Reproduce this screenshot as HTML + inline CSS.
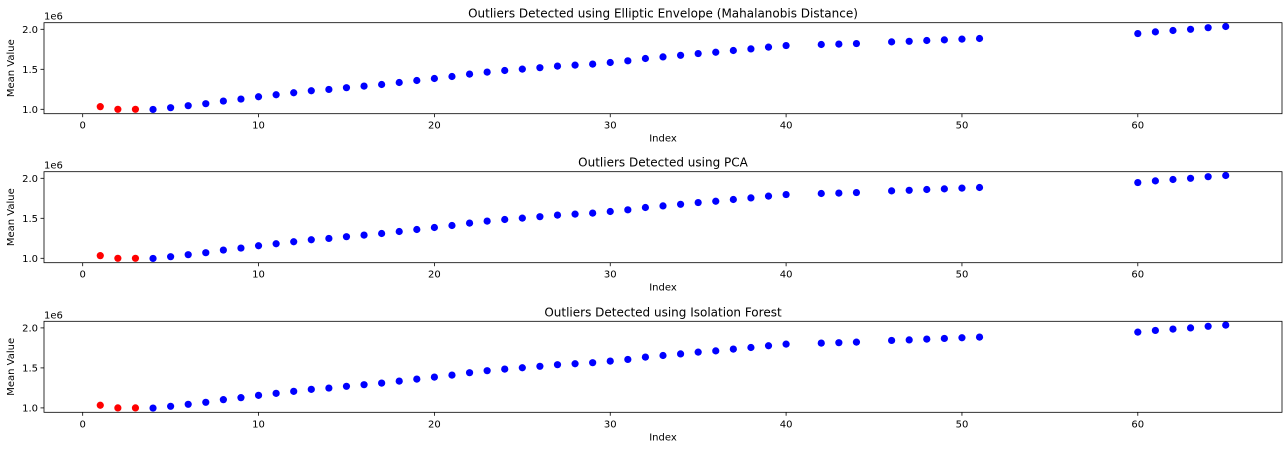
<!DOCTYPE html>
<html><head><meta charset="utf-8"><style>
html,body{margin:0;padding:0;background:#fff;}
svg{display:block;font-family:"DejaVu Sans","Liberation Sans",sans-serif;}
</style></head><body>
<svg id="chart" width="1288" height="450" viewBox="0 0 1288 450"></svg>
<script>
const titles=["Outliers Detected using Elliptic Envelope (Mahalanobis Distance)","Outliers Detected using PCA","Outliers Detected using Isolation Forest"];
const indices=[1,2,3,4,5,6,7,8,9,10,11,12,13,14,15,16,17,18,19,20,21,22,23,24,25,26,27,28,29,30,31,32,33,34,35,36,37,38,39,40,42,43,44,46,47,48,49,50,51,60,61,62,63,64,65];
const values=[1.033,1.0,1.0,0.998,1.02,1.045,1.07,1.103,1.128,1.157,1.182,1.207,1.232,1.248,1.27,1.29,1.31,1.335,1.36,1.385,1.41,1.44,1.465,1.485,1.502,1.52,1.54,1.552,1.565,1.585,1.606,1.635,1.655,1.675,1.697,1.713,1.735,1.755,1.777,1.797,1.81,1.815,1.822,1.843,1.85,1.86,1.868,1.877,1.885,1.947,1.968,1.985,2.0,2.02,2.035];
const outliers=[1,2,3];
const xTicks=[0,10,20,30,40,50,60];
const yTicks=[1.0,1.5,2.0];
const NS="http://www.w3.org/2000/svg";
const svg=document.getElementById('chart');
function mk(t,a,p){const e=document.createElementNS(NS,t);for(const k in a)e.setAttribute(k,a[k]);(p||svg).appendChild(e);return e;}
const L=44,R=1282,H=91;
const tops=[22.7,171.7,321.3];
const xmin=-2.2,xmax=68.2;
const X=v=>L+(v-xmin)/(xmax-xmin)*(R-L);
tops.forEach((T,i)=>{
  const g=mk('g',{});
  
  
  const Y=v=>T+6.6+(2.0-v)*80;
  const tt=mk('text',{x:(L+R)/2,y:T-5,'text-anchor':'middle','font-size':12,fill:'#000'},g);tt.textContent=titles[i];
  
  const ex=mk('text',{x:L,y:T-3,'font-size':10,fill:'#000'},g);ex.textContent='1e6';
  
  xTicks.forEach(t=>{const x=X(t);mk('line',{x1:x,x2:x,y1:T+H,y2:T+H+3.5,stroke:'#000','stroke-width':0.8},g);
    const tx=mk('text',{x:x,y:T+H+15,'text-anchor':'middle','font-size':10,fill:'#000'},g);tx.textContent=t;
    });
  yTicks.forEach(t=>{const y=Y(t);mk('line',{x1:L,x2:L-3.5,y1:y,y2:y,stroke:'#000','stroke-width':0.8},g);
    const ty=mk('text',{x:L-6,y:y+3.5,'text-anchor':'end','font-size':10,fill:'#000'},g);ty.textContent=t.toFixed(1);
    });
  const xl=mk('text',{x:(L+R)/2,y:T+H+28,'text-anchor':'middle','font-size':10,fill:'#000'},g);xl.textContent='Index';
  
  const yc=T+H/2;
  const yl=mk('text',{x:14,y:yc,'text-anchor':'middle','font-size':10,fill:'#000',transform:`rotate(-90 14 ${yc})`},g);yl.textContent='Mean Value';
  
  indices.forEach((ix,j)=>{
    const c=mk('circle',{cx:X(ix),cy:Y(values[j]),r:3.6,fill:outliers.includes(ix)?'#ff0000':'#0000ff'},g);
    
    
  });
  const fr=mk('rect',{x:L,y:T,width:R-L,height:H,fill:'none',stroke:'#000','stroke-width':0.8},g);
  
  
});
</script>
</body></html>
